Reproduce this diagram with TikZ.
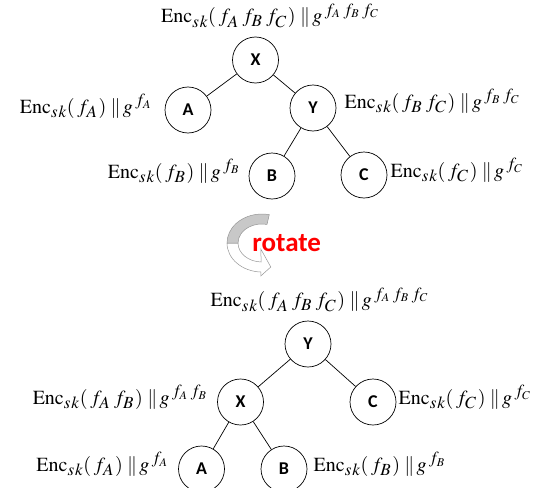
\documentclass[tikz,border=0pt]{standalone}
\usepackage{mathptmx}
\usepackage[no-math]{fontspec}
\setmainfont{Liberation Serif}
\newfontfamily\carlito{Carlito}
\usetikzlibrary{positioning, calc}
\DeclareMathSizes{20}{20}{17}{12}
\definecolor{rotred}{RGB}{255,0,0}
\definecolor{arrgray}{RGB}{200,200,200}
\definecolor{arredge}{RGB}{150,150,150}

\newcommand{\fs}[1]{\mkern2.5mu f_{#1}\mkern1mu}
\newcommand{\enclbl}[1]{$\mathrm{Enc}_{s\mkern1mu k}(#1)\;\|\,g^{#1}$}

\begin{document}
\begin{tikzpicture}[x=1pt, y=-1pt,
  circ/.style = {draw, circle, minimum size=46pt, inner sep=0pt, font=\carlito\bfseries\fontsize{18}{20}\selectfont},
  lbl/.style  = {inner sep=0pt, font=\fontsize{20}{22}\selectfont},
  line width=0.7pt ]
\useasboundingbox (0,0) rectangle (548,487);

%--- Top tree ---
% X1
\node[circ] (X1) at (255.5, 60) {X};
\node[lbl, anchor=base] (lX1) at ([xshift=15pt, yshift=14pt]X1.north) {\enclbl{\fs A\fs B\fs C}};

% A1
\node[circ] (A1) at (188, 110) {A};
\node[lbl, anchor=base east] (lA1) at ([xshift=-12pt, yshift=-3pt]A1.west) {\enclbl{\fs A}};

% Y1
\node[circ] (Y1) at (313, 108) {Y};
\node[lbl, anchor=base west] (lY1) at ([xshift=8pt]Y1.east) {\enclbl{\fs B\fs C}};

% B1
\node[circ] (B1) at (272, 176) {B};
\node[lbl, anchor=base east] (lB1) at ([xshift=-8pt, yshift=-2pt]B1.west) {\enclbl{\fs B}};

% C1
\node[circ] (C1) at (364, 175) {C};
\node[lbl, anchor=base west] (lC1) at ([xshift=3pt, yshift=-2pt]C1.east) {\enclbl{\fs C}};

\draw (X1) -- (A1);
\draw (X1) -- (Y1);
\draw (Y1) -- (B1);
\draw (Y1) -- (C1);

%--- rotate arrow ---
\coordinate (rot) at (262, 243);
\filldraw[fill=white, draw=arredge, line width=0.5pt]
  ($(rot)+(-180:35 and 29)$) arc[start angle=-180, end angle=-268, x radius=35, y radius=29]
  -- ++(0,4) -- ++(10,-9) -- ++(-10,-18)
  -- ($(rot)+(-268:24 and 19)$) arc[start angle=-268, end angle=-180, x radius=24, y radius=19] -- cycle;
\filldraw[fill=arrgray, draw=arredge, line width=0.5pt]
  ($(rot)+(-78:35 and 29)$) arc[start angle=-78, end angle=-180, x radius=35, y radius=29]
  -- ($(rot)+(-180:24 and 19)$) arc[start angle=-180, end angle=-78, x radius=24, y radius=19] -- cycle;
\node[font=\carlito\bfseries\fontsize{27}{30}\selectfont, text=rotred, anchor=base west, inner sep=0pt] (rotlbl) at (252, 251) {rotate};

%--- Bottom tree ---
% Y2
\node[circ] (Y2) at (308, 344) {Y};
\node[lbl, anchor=base] (lY2) at ([xshift=12pt, yshift=14pt]Y2.north) {\enclbl{\fs A\fs B\fs C}};

% X2
\node[circ] (X2) at (240.5, 402) {X};
\node[lbl, anchor=base east] (lX2) at ([xshift=-9pt, yshift=-2pt]X2.west) {\enclbl{\fs A\fs B}};

% C2
\node[circ] (C2) at (373, 402) {C};
\node[lbl, anchor=base west] (lC2) at ([xshift=2pt, yshift=-2pt]C2.east) {\enclbl{\fs C}};

% A2
\node[circ] (A2) at (201.5, 469) {A};
\node[lbl, anchor=base east] (lA2) at ([xshift=-9pt, yshift=-2pt]A2.west) {\enclbl{\fs A}};

% B2
\node[circ] (B2) at (284, 469) {B};
\node[lbl, anchor=base west] (lB2) at ([xshift=6pt, yshift=-2pt]B2.east) {\enclbl{\fs B}};

\draw (Y2) -- (X2);
\draw (Y2) -- (C2);
\draw (X2) -- (A2);
\draw (X2) -- (B2);

\end{tikzpicture}
\end{document}
